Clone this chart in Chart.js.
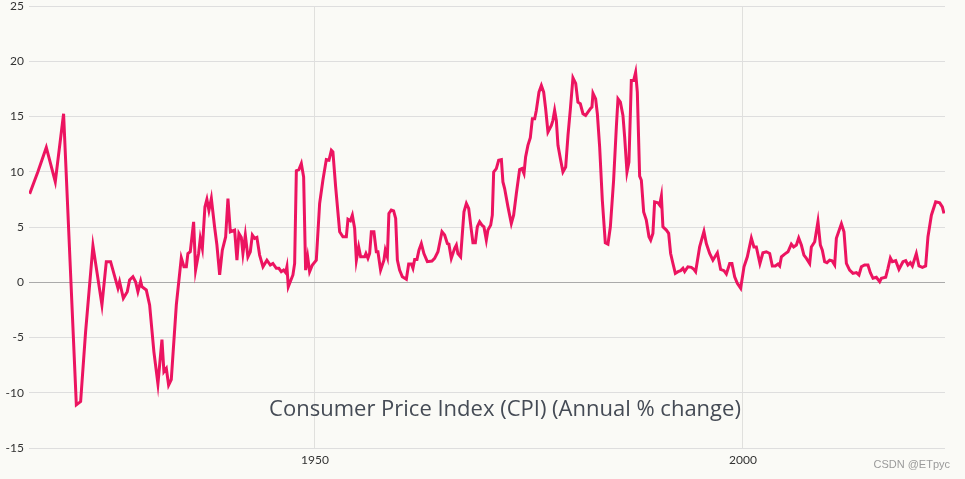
<!DOCTYPE html>
<html>
<head>
<meta charset="utf-8">
<script src="https://cdn.jsdelivr.net/npm/chart.js@4"></script>
<style>
  html, body { margin: 0; padding: 0; background: #fafaf6; }
  #cpi { display: block; }
</style>
</head>
<body>
<canvas id="cpi" width="965" height="479"></canvas>
<script>
const chartTitle = 'Consumer Price Index (CPI) (Annual % change)';
const watermark = 'CSDN @ETpyc';
const xTicks = [1950, 2000];
const yTicks = [-15, -10, -5, 0, 5, 10, 15, 20, 25];

// год (дробный) и значение CPI
const years = [
  1916.67, 1917.64, 1918.62, 1919.67, 1920.64, 1922.13, 1922.63, 1923.21, 1924.07, 1925.12,
  1925.63, 1926.13, 1926.99, 1927.18, 1927.62, 1928.08, 1928.35, 1928.74, 1929.05, 1929.32,
  1929.64, 1929.79, 1930.3, 1930.69, 1931.19, 1931.66, 1932.13, 1932.36, 1932.64, 1932.91,
  1933.22, 1933.81, 1934.39, 1934.7, 1934.98, 1935.16, 1935.44, 1935.83, 1936.06, 1936.41,
  1936.61, 1936.85, 1937.15, 1937.38, 1937.62, 1937.9, 1938.28, 1938.55, 1938.87, 1939.18,
  1939.57, 1939.84, 1940.12, 1940.62, 1940.89, 1941.12, 1941.4, 1941.59, 1941.87, 1942.17,
  1942.45, 1942.69, 1942.96, 1943.22, 1943.54, 1943.93, 1944.39, 1944.79, 1945.09, 1945.49,
  1945.79, 1946.07, 1946.34, 1946.58, 1946.73, 1946.89, 1947.43, 1947.63, 1947.83, 1948.13,
  1948.41, 1948.68, 1948.91, 1949.15, 1949.38, 1949.7, 1950.16, 1950.55, 1950.93, 1951.33,
  1951.64, 1951.92, 1952.1, 1952.42, 1952.89, 1953.27, 1953.67, 1953.86, 1954.14, 1954.37,
  1954.64, 1954.84, 1955.11, 1955.34, 1955.81, 1955.96, 1956.19, 1956.39, 1956.59, 1956.89,
  1957.17, 1957.36, 1957.67, 1958.06, 1958.22, 1958.46, 1958.64, 1958.92, 1959.19, 1959.43,
  1959.63, 1959.89, 1960.21, 1960.68, 1960.95, 1961.26, 1961.45, 1961.65, 1961.92, 1962.15,
  1962.43, 1962.73, 1963.13, 1963.67, 1963.98, 1964.37, 1964.84, 1965.15, 1965.47, 1965.65,
  1965.93, 1966.32, 1966.52, 1966.7, 1967.02, 1967.41, 1967.69, 1967.96, 1968.27, 1968.46,
  1968.74, 1968.97, 1969.24, 1969.51, 1969.74, 1970.02, 1970.21, 1970.53, 1970.72, 1970.88,
  1971.19, 1971.46, 1971.78, 1971.96, 1972.16, 1972.55, 1972.94, 1973.21, 1973.53, 1973.91,
  1974.18, 1974.42, 1974.61, 1974.88, 1975.16, 1975.4, 1975.67, 1975.86, 1976.17, 1976.45,
  1976.72, 1976.95, 1977.22, 1977.62, 1977.8, 1978.0, 1978.2, 1978.39, 1978.67, 1978.97,
  1979.29, 1979.56, 1979.84, 1980.14, 1980.46, 1980.72, 1981.0, 1981.31, 1981.62, 1981.89,
  1982.17, 1982.36, 1982.48, 1982.79, 1982.99, 1983.26, 1983.57, 1983.92, 1984.23, 1984.51,
  1984.89, 1985.21, 1985.4, 1985.68, 1985.98, 1986.18, 1986.45, 1986.68, 1986.96, 1987.23,
  1987.46, 1987.66, 1987.93, 1988.13, 1988.4, 1988.71, 1989.02, 1989.22, 1989.48, 1989.68,
  1990.07, 1990.27, 1990.47, 1990.65, 1991.05, 1991.32, 1991.55, 1991.82, 1992.1, 1992.41,
  1992.72, 1992.99, 1993.19, 1993.57, 1993.97, 1994.27, 1994.47, 1994.94, 1995.44, 1995.72,
  1996.11, 1996.49, 1997.01, 1997.39, 1997.78, 1998.06, 1998.45, 1998.71, 1999.03, 1999.34,
  1999.73, 2000.12, 2000.51, 2000.98, 2001.28, 2001.56, 2001.98, 2002.33, 2002.73, 2003.12,
  2003.43, 2003.78, 2004.09, 2004.29, 2004.49, 2004.87, 2005.26, 2005.65, 2005.92, 2006.24,
  2006.51, 2006.82, 2007.12, 2007.41, 2007.79, 2007.99, 2008.38, 2008.76, 2009.04, 2009.27,
  2009.54, 2009.81, 2010.13, 2010.4, 2010.71, 2010.91, 2011.5, 2011.8, 2012.08, 2012.46,
  2012.85, 2013.25, 2013.55, 2013.83, 2014.21, 2014.6, 2014.88, 2015.19, 2015.58, 2015.97,
  2016.17, 2016.67, 2016.94, 2017.22, 2017.45, 2017.84, 2018.22, 2018.69, 2019.01, 2019.27,
  2019.55, 2019.79, 2020.25, 2020.56, 2020.96, 2021.34, 2021.61, 2022.01, 2022.51, 2022.98,
  2023.29, 2023.48
];

const cpi = [
  8.0, 10.0, 12.2, 9.1, 15.25, -11.1, -10.8, -4.5, 3.3, -2.05,
  1.86, 1.86, -0.54, 0.05, -1.45, -0.85, 0.2, 0.5, 0.05, -0.85,
  0.1, -0.4, -0.7, -2.05, -6.3, -9.2, -5.2, -8.1, -7.8, -9.3,
  -8.8, -2.05, 2.2, 1.4, 1.4, 2.6, 2.76, 5.47, 1.1, 2.6,
  3.97, 3.07, 6.82, 7.5, 6.5, 7.58, 5.0, 3.37, 0.66, 2.9,
  4.1, 7.58, 4.57, 4.72, 2.0, 4.42, 4.06, 2.6, 4.27, 2.3,
  2.76, 4.27, 3.97, 4.06, 2.46, 1.4, 2.0, 1.56, 1.7, 1.26,
  1.26, 0.96, 1.1, 0.87, 1.4, -0.4, 0.66, 1.7, 10.1, 10.2,
  10.74, 9.53, 1.1, 2.3, 0.96, 1.56, 2.0, 7.13, 9.23, 11.1,
  11.04, 11.94, 11.8, 8.63, 4.57, 4.12, 4.12, 5.69, 5.56, 6.07,
  4.87, 2.0, 3.2, 2.3, 2.3, 2.6, 2.16, 2.6, 4.57, 4.57,
  2.76, 2.76, 1.1, 2.0, 2.9, 2.3, 6.23, 6.53, 6.46, 5.78,
  2.0, 1.1, 0.5, 0.27, 1.65, 1.65, 1.26, 2.07, 2.07, 2.9,
  3.5, 2.6, 1.86, 1.92, 2.16, 2.76, 4.57, 4.27, 3.5, 3.45,
  2.16, 3.07, 3.37, 2.6, 2.3, 6.37, 7.13, 6.68, 4.72, 3.57,
  3.57, 5.02, 5.47, 5.17, 5.02, 3.82, 4.72, 5.17, 6.07, 9.98,
  10.29, 11.04, 11.1, 9.08, 8.48, 6.82, 5.32, 6.07, 8.03, 10.2,
  10.29, 9.84, 11.34, 12.39, 13.09, 14.8, 14.8, 15.55, 17.2, 17.8,
  17.2, 15.7, 13.6, 14.2, 14.65, 15.55, 14.65, 12.39, 11.2, 9.98,
  10.43, 13.29, 15.7, 18.5, 18.0, 16.3, 16.15, 15.25, 15.1, 15.4,
  15.7, 15.85, 17.1, 16.6, 15.25, 12.24, 7.43, 3.57, 3.45, 5.02,
  9.23, 14.05, 16.6, 16.3, 15.1, 13.14, 9.98, 10.88, 18.26, 18.26,
  19.0, 17.2, 9.6, 9.23, 6.37, 5.62, 4.12, 3.82, 4.42, 7.27,
  7.18, 6.98, 7.8, 5.02, 4.72, 4.42, 2.6, 1.7, 0.8, 0.96,
  1.05, 1.26, 0.96, 1.4, 1.35, 1.17, 0.96, 3.2, 4.6, 3.5,
  2.6, 2.0, 2.67, 1.17, 1.05, 0.75, 1.7, 1.7, 0.5, -0.1,
  -0.54, 1.4, 2.3, 4.0, 3.2, 3.2, 1.7, 2.67, 2.76, 2.6,
  1.47, 1.47, 1.65, 1.47, 2.3, 2.55, 2.76, 3.45, 3.2, 3.37,
  4.0, 3.37, 2.46, 2.16, 1.7, 3.2, 3.67, 5.5, 3.37, 2.9,
  1.86, 1.77, 2.0, 1.95, 1.56, 3.97, 5.3, 4.57, 1.7, 1.1,
  0.8, 0.87, 0.66, 1.4, 1.56, 1.56, 0.87, 0.36, 0.45, 0.05,
  0.36, 0.45, 1.26, 2.2, 1.86, 1.95, 1.17, 1.86, 1.95, 1.56,
  1.77, 1.47, 2.6, 1.47, 1.35, 1.47, 4.12, 6.07, 7.27, 7.18,
  6.82, 6.23
];

// подписи поверх графика
const overlayText = {
  id: 'overlayText',
  afterDraw(chart) {
    const ctx = chart.ctx;
    ctx.save();
    ctx.fillStyle = '#454b55';
    ctx.font = '22px "Open Sans", sans-serif';
    ctx.textAlign = 'center';
    ctx.textBaseline = 'alphabetic';
    ctx.fillText(chartTitle, 505, 416);
    ctx.fillStyle = '#9a9a9a';
    ctx.font = '11px "Liberation Sans", Arial, sans-serif';
    ctx.textAlign = 'right';
    ctx.textBaseline = 'middle';
    ctx.fillText(watermark, 950, 465);
    ctx.restore();
  }
};

const ctx = document.getElementById('cpi').getContext('2d');
new Chart(ctx, {
  type: 'line',
  data: {
    datasets: [{
      data: years.map((y, i) => ({ x: y, y: cpi[i] })),
      borderColor: '#ec1460',
      borderWidth: 3,
      pointRadius: 0,
      tension: 0,
      fill: false
    }]
  },
  options: {
    responsive: false,
    animation: false,
    layout: { padding: { top: 6, right: 20, left: 0, bottom: 0 } },
    plugins: {
      legend: { display: false },
      tooltip: { enabled: false }
    },
    scales: {
      x: {
        type: 'linear',
        min: 1916.6,
        max: 2023.6,
        afterBuildTicks: s => { s.ticks = xTicks.map(v => ({ value: v })); },
        afterFit: s => { s.height = 31; s.paddingLeft = 0; s.paddingRight = 0; },
        grid: { color: 'rgba(0,0,0,0.1)', drawTicks: false },
        border: { display: false },
        ticks: {
          padding: 5,
          color: '#333',
          font: { family: 'Lato, "Open Sans", sans-serif', size: 12 },
          callback: v => String(v)
        }
      },
      y: {
        min: -15,
        max: 25,
        afterBuildTicks: s => { s.ticks = yTicks.map(v => ({ value: v })); },
        afterFit: s => { s.width = 29; s.paddingTop = 0; s.paddingBottom = 0; },
        grid: {
          color: c => c.tick && c.tick.value === 0 ? '#aaaaaa' : '#dedede',
          drawTicks: false
        },
        border: { display: false },
        ticks: {
          padding: 5,
          color: '#333',
          font: { family: 'Lato, "Open Sans", sans-serif', size: 12 }
        }
      }
    }
  },
  plugins: [overlayText]
});
</script>
</body>
</html>
